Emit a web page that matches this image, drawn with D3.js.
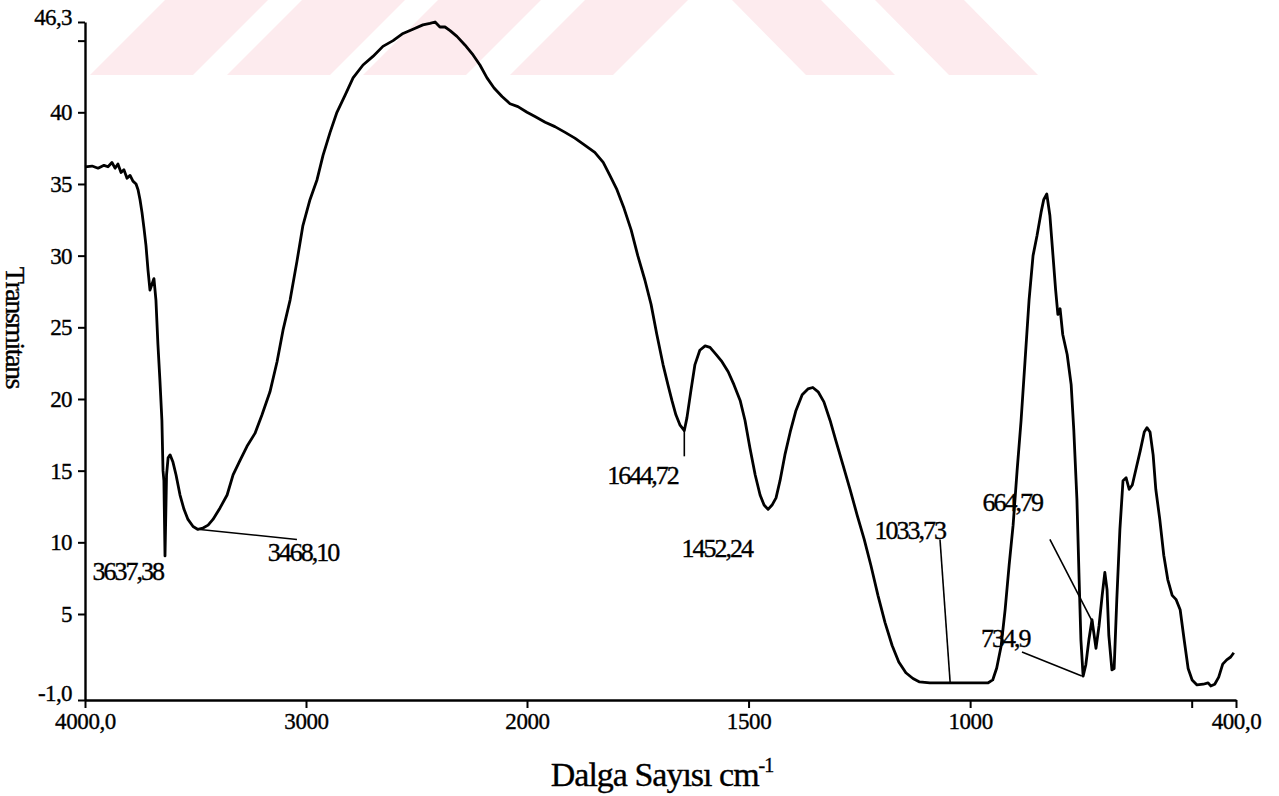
<!DOCTYPE html>
<html>
<head>
<meta charset="utf-8">
<script src="https://cdn.jsdelivr.net/npm/d3@7"></script>
<style>
  html, body { margin: 0; padding: 0; background: #ffffff; }
  svg { display: block; }
  text { font-family: "Liberation Serif", "Times New Roman", serif; fill: #000; stroke: #000; stroke-width: 0.35px; }
</style>
</head>
<body>
<svg id="chart" width="1279" height="796"></svg>
<script>
// ---- data ----
const wavenumbers = [4000,3968,3941,3914,3896,3878,3864,3851,3837,3824,3810,3796,3783,3769,3760,3751,3742,3733,3724,3715,3706,3697,3688,3679,3670,3661,3652,3647,3643,3638,3631,3624,3615,3602,3588,3570,3552,3534,3511,3489,3466,3443,3421,3389,3357,3330,3299,3267,3231,3199,3163,3131,3104,3072,3041,3014,2982,2950,2923,2891,2860,2823,2787,2742,2697,2652,2606,2561,2516,2471,2439,2416,2394,2371,2348,2317,2281,2244,2213,2181,2149,2113,2077,2041,2000,1982,1959,1937,1914,1892,1869,1847,1828,1813,1797,1781,1765,1750,1734,1720,1707,1693,1682,1673,1664,1655,1645,1639,1630,1621,1610,1598,1587,1573,1560,1546,1533,1519,1508,1497,1485,1474,1465,1456,1447,1438,1429,1418,1406,1393,1379,1366,1355,1343,1330,1316,1303,1287,1271,1255,1239,1224,1208,1192,1176,1161,1145,1129,1114,1091,1057,1023,989,960,949,940,930,921,912,903,894,885,876,867,858,849,840,834,827,820,814,807,802,797,791,781,772,766,759,754,750,745,739,732,725,720,716,709,702,696,691,687,680,675,669,662,655,648,641,634,625,616,607,601,594,587,581,572,563,554,544,535,526,517,508,499,488,474,463,457,448,439,430,421,412,405];
const transmittance = [36.2,36.25,36.1,36.3,36.2,36.5,36.1,36.4,35.8,36.0,35.4,35.6,35.2,35.0,34.6,33.9,33.0,31.9,30.7,29.0,27.6,28.0,28.4,26.9,23.8,21.3,18.5,15.0,14.3,9.05,14.7,15.9,16.1,15.6,14.7,13.3,12.3,11.6,11.1,10.9,11.0,11.2,11.6,12.4,13.3,14.7,15.7,16.7,17.6,18.9,20.5,22.6,24.8,26.9,29.6,32.1,33.9,35.3,37.0,38.6,40.0,41.2,42.4,43.3,43.9,44.6,45.0,45.5,45.8,46.1,46.2,46.3,45.95,45.95,45.7,45.3,44.7,44.0,43.3,42.4,41.7,41.1,40.6,40.4,40.0,39.7,39.3,39.0,38.6,38.2,37.7,37.2,36.5,35.6,34.6,33.3,31.8,30.0,28.3,26.6,24.5,22.4,21.0,19.9,18.9,18.2,17.8,18.7,20.6,22.4,23.4,23.7,23.6,23.1,22.6,21.9,21.0,19.9,18.5,16.6,14.7,13.3,12.6,12.3,12.6,13.1,14.3,16.1,17.7,19.2,20.3,20.7,20.8,20.5,19.8,18.5,17.1,15.4,13.7,11.9,10.2,8.4,6.3,4.4,2.8,1.65,0.9,0.5,0.26,0.19,0.19,0.19,0.19,0.19,0.4,1.23,2.77,5.3,8.4,11.2,15.0,18.5,22.7,26.9,30.0,31.4,33.0,33.9,34.3,32.8,30.4,27.6,25.9,26.3,24.5,23.1,21.0,17.8,13.0,7.4,3.2,0.67,1.44,3.2,4.6,3.5,2.6,4.2,6.3,7.9,6.7,3.5,1.1,1.2,6.0,10.9,14.3,14.5,13.7,14.0,15.2,16.4,17.7,18.0,17.7,16.1,13.7,11.6,9.1,7.4,6.3,6.0,5.3,3.2,1.2,0.4,0.05,0.1,0.2,-0.02,0.1,0.6,1.5,1.8,2.0,2.3];

const xTickValues = [4000, 3000, 2000, 1500, 1000, 500, 400];
const xTickLabels = ["4000,0", "3000", "2000", "1500", "1000", "", "400,0"];
const yTickValues = [46.3, 45, 40, 35, 30, 25, 20, 15, 10, 5, -1];
const yTickLabels = ["46,3", "", "40", "35", "30", "25", "20", "15", "10", "5", "-1,0"];

// peak annotations: label text, label anchor (wn, T), leader line (wn1,T1)-(wn2,T2)
const peakLabels = ["3637,38", "3468,10", "1644,72", "1452,24", "1033,73", "664,79", "734,9"];
const labelWn    = [3647, 3014, 1660, 1572, 1136, 905, 921];
const labelT     = [8.0, 9.3, 14.7, 9.6, 10.9, 12.8, 3.3];
const labelAnchor= ["end", "middle", "end", "middle", "middle", "middle", "middle"];
const leaderWn1  = [3638, 3480, 1645, null, 1068, 820, 883];
const leaderT1   = [9.05, 10.9, 17.8, null, 10.2, 10.2, 2.35];
const leaderWn2  = [3638, 3041, 1645, null, 1045, 723, 748];
const leaderT2   = [9.05, 10.2, 16.0, null, 0.19, 4.4, 0.67];

const xTitle = "Dalga  Sayısı cm";
const xTitleSup = "-1";
const yTitle = "Transmitans";

// ---- drawing ----
const svg = d3.select("#chart");
const W = 1279, H = 796;
svg.append("rect").attr("width", W).attr("height", H).attr("fill", "#fff");

// faint watermark stripes at the top of the page
const wm = svg.append("g").attr("fill", "#fdebee");
const stripeH = 75, stripeW = 103;
[90, 227, 363, 510].forEach(bx => {
  wm.append("polygon").attr("points",
    `${bx},${stripeH} ${bx + stripeW},${stripeH} ${bx + stripeW + 75},0 ${bx + 75},0`);
});
[806, 949].forEach(bx => {
  wm.append("polygon").attr("points",
    `${bx - 74},0 ${bx - 74 + 89},0 ${bx + 89},${stripeH} ${bx},${stripeH}`);
});

const x = d3.scaleLinear().domain([4000, 2000, 400]).range([85, 527, 1236]);
const y = d3.scaleLinear().domain([-1, 46.3]).range([700, 22]);

// Y axis
const yAxis = d3.axisLeft(y)
  .tickValues(yTickValues)
  .tickFormat((d, i) => yTickLabels[i])
  .tickSize(7).tickSizeOuter(0).tickPadding(6);
const gy = svg.append("g").attr("transform", `translate(${x(4000)},0)`).call(yAxis);
gy.select(".domain").attr("stroke", "#000").attr("stroke-width", 2.4);
gy.selectAll(".tick line").attr("stroke", "#000").attr("stroke-width", 2);
gy.selectAll(".tick text")
  .style("font-family", "'Liberation Serif', serif")
  .style("font-size", "23px").style("letter-spacing", "-0.6px");
gy.selectAll(".tick text").filter(d => d === -1).attr("dy", "0.0em");
gy.selectAll(".tick text").filter(d => d === 46.3).attr("dy", "0.1em");

// X axis
const xAxis = d3.axisBottom(x)
  .tickValues(xTickValues)
  .tickFormat((d, i) => xTickLabels[i])
  .tickSize(8).tickSizeOuter(0).tickPadding(5);
const gx = svg.append("g").attr("transform", `translate(0,${y(-1)})`).call(xAxis);
gx.select(".domain").attr("stroke", "#000").attr("stroke-width", 2.6);
gx.selectAll(".tick line").attr("stroke", "#000").attr("stroke-width", 2);
gx.selectAll(".tick text")
  .style("font-family", "'Liberation Serif', serif")
  .style("font-size", "23px").style("letter-spacing", "-0.4px");

// spectrum
const pts = wavenumbers.map((w, i) => [w, transmittance[i]]);
const line = d3.line().x(d => x(d[0])).y(d => y(d[1]));
svg.append("path").datum(pts)
  .attr("d", line)
  .attr("fill", "none")
  .attr("stroke", "#000")
  .attr("stroke-width", 2.8)
  .attr("stroke-linejoin", "round");

// leader lines and labels
const ann = svg.append("g");
peakLabels.forEach((lab, i) => {
  if (leaderWn1[i] !== null) {
    ann.append("line")
      .attr("x1", x(leaderWn1[i])).attr("y1", y(leaderT1[i]))
      .attr("x2", x(leaderWn2[i])).attr("y2", y(leaderT2[i]))
      .attr("stroke", "#000").attr("stroke-width", 1.6);
  }
  ann.append("text")
    .attr("x", x(labelWn[i])).attr("y", y(labelT[i]))
    .attr("dy", "0.35em")
    .attr("text-anchor", labelAnchor[i])
    .style("font-size", "26px").style("letter-spacing", "-2px")
    .text(lab);
});

// axis titles
const xt = svg.append("text")
  .attr("x", 662).attr("y", 786)
  .attr("text-anchor", "middle")
  .style("font-size", "34px").style("letter-spacing", "-1px");
xt.append("tspan").text(xTitle);
xt.append("tspan").attr("dy", "-14").style("font-size", "20px").text(xTitleSup);

svg.append("text")
  .attr("transform", `translate(16,${y(25.0)}) rotate(90)`)
  .attr("text-anchor", "middle")
  .attr("dy", "0.35em")
  .style("font-size", "28px").style("letter-spacing", "-1.5px")
  .text(yTitle);
</script>
</body>
</html>
